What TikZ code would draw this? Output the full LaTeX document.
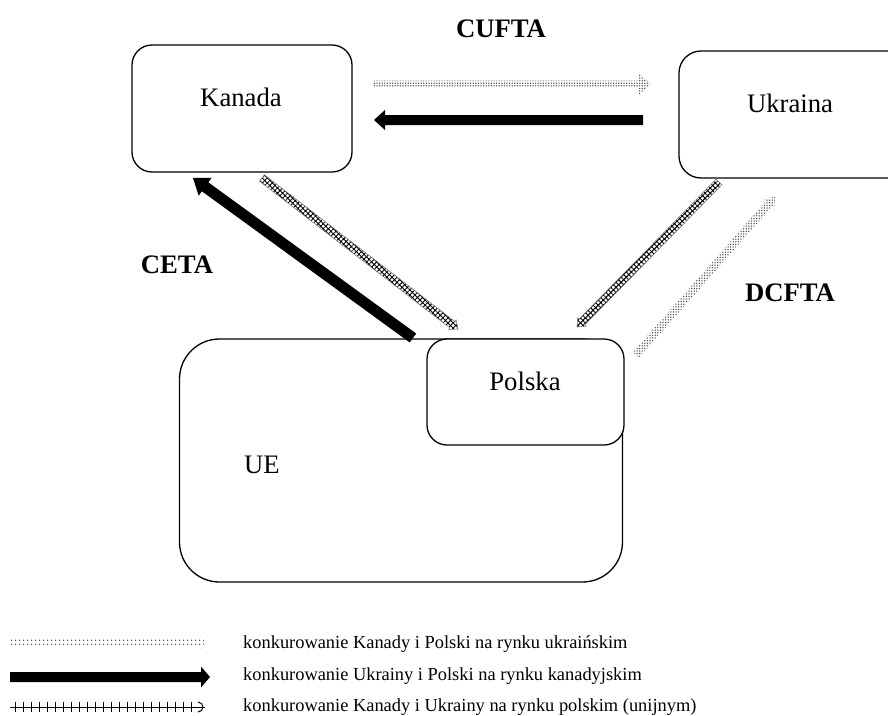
\documentclass[tikz,border=0pt]{standalone}
\usepackage{fontspec}
\setmainfont{Liberation Serif}
\usetikzlibrary{calc,patterns.meta}
\newcommand\fatarrow[6]{% from, to, half shaft, half head, head length, style
  \coordinate (fa-c) at ($(#2)!#5!(#1)$);
  \path[#6] ($(#1)!#3!90:(#2)$) -- ($(fa-c)!#3!-90:(#1)$) -- ($(fa-c)!#4!-90:(#1)$) -- (#2)
    -- ($(fa-c)!#4!90:(#1)$) -- ($(fa-c)!#3!90:(#1)$) -- ($(#1)!#3!-90:(#2)$) -- cycle;
}
\tikzset{
  box/.style={draw, line width=1.3pt, fill=white, inner sep=0pt},
  big/.style={font=\fontsize{26.7}{30}\selectfont, anchor=base, inner sep=0pt},
  bigb/.style={font=\fontsize{26.7}{30}\selectfont\bfseries, anchor=base, inner sep=0pt},
  legtext/.style={font=\fontsize{18.4}{22}\selectfont, anchor=base west, inner sep=0pt},
  solidarrow/.style={fill=black},
  dotarrow/.style={pattern={Dots[radius=0.75pt, distance=2.6pt]}, pattern color=black!70},
  dotlegend/.style={pattern={Dots[radius=0.9pt, distance=4pt]}, pattern color=black!75},
  hatcharrow/.style={pattern={Hatch[distance=3.6pt, line width=0.9pt, angle=45]}, pattern color=black, draw=black!50, line width=0.6pt},
}
\begin{document}
\begin{tikzpicture}[x=1pt, y=-1pt]
\useasboundingbox (0,0) rectangle (888,715);
% boxes
\node[box, rounded corners=20pt, minimum width=220pt, minimum height=127pt] (kanada) at (242,108.5) {};
\node[box, rounded corners=22pt, minimum width=240pt, minimum height=127pt] (ukraina) at (799,114.5) {};
\node[box, rounded corners=40pt, minimum width=443pt, minimum height=243pt] (ue) at (401,460.5) {};
\node[box, rounded corners=20pt, minimum width=197pt, minimum height=106pt] (polska) at (525.5,392) {};
% box texts
\node[big] (kanadaT) at (241,106) {Kanada};
\node[big] (ukrainaT) at (790,112) {Ukraina};
\node[big] (polskaT) at (525,390) {Polska};
\node[big] (ueT) at (262,473) {UE};
% agreement labels
\node[bigb] (cufta) at (501,37) {CUFTA};
\node[bigb] (ceta) at (177,273) {CETA};
\node[bigb] (dcfta) at (790,301) {DCFTA};
% arrow end points
\coordinate (a1s) at (373,84);  \coordinate (a1e) at (651,84);
\coordinate (a2s) at (643,120); \coordinate (a2e) at (374,120);
\coordinate (a3s) at (413,338); \coordinate (a3e) at (193,178);
\coordinate (a4s) at (262,178); \coordinate (a4e) at (458,329);
\coordinate (a5s) at (719,182); \coordinate (a5e) at (577,327);
\coordinate (a6s) at (636,355); \coordinate (a6e) at (775,197);
\fatarrow{a1s}{a1e}{3.5pt}{11pt}{12pt}{dotarrow}
\fatarrow{a2s}{a2e}{5pt}{10pt}{11pt}{solidarrow}
\fatarrow{a3s}{a3e}{5.5pt}{11pt}{15pt}{solidarrow}
\fatarrow{a4s}{a4e}{4pt}{6pt}{7pt}{hatcharrow}
\fatarrow{a5s}{a5e}{4pt}{6pt}{7pt}{hatcharrow}
\fatarrow{a6s}{a6e}{4pt}{7pt}{9pt}{dotarrow}
% legend
\coordinate (l1s) at (10,642); \coordinate (l1e) at (205,642);
\coordinate (l2s) at (10,677); \coordinate (l2e) at (210,677);
\coordinate (l3s) at (10,707); \coordinate (l3e) at (205,707);
\fatarrow{l1s}{l1e}{5pt}{8pt}{5pt}{dotlegend}
\fatarrow{l2s}{l2e}{5pt}{10.5pt}{9pt}{solidarrow}
\draw[line width=1pt] (l3s) -- (l3e);
\foreach \i in {0,...,22} {
  \draw[line width=1pt] ($(l3s)+(5+8*\i,-5)$) -- ($(l3s)+(5+8*\i,5)$);
}
\draw[line width=1pt] ($(l3e)+(-7,-5)$) arc[start angle=-90, end angle=90, radius=5];
\node[legtext] (lt1) at (243,648) {konkurowanie Kanady i Polski na rynku ukraińskim};
\node[legtext] (lt2) at (243,680) {konkurowanie Ukrainy i Polski na rynku kanadyjskim};
\node[legtext] (lt3) at (243,711) {konkurowanie Kanady i Ukrainy na rynku polskim (unijnym)};
\end{tikzpicture}
\end{document}
